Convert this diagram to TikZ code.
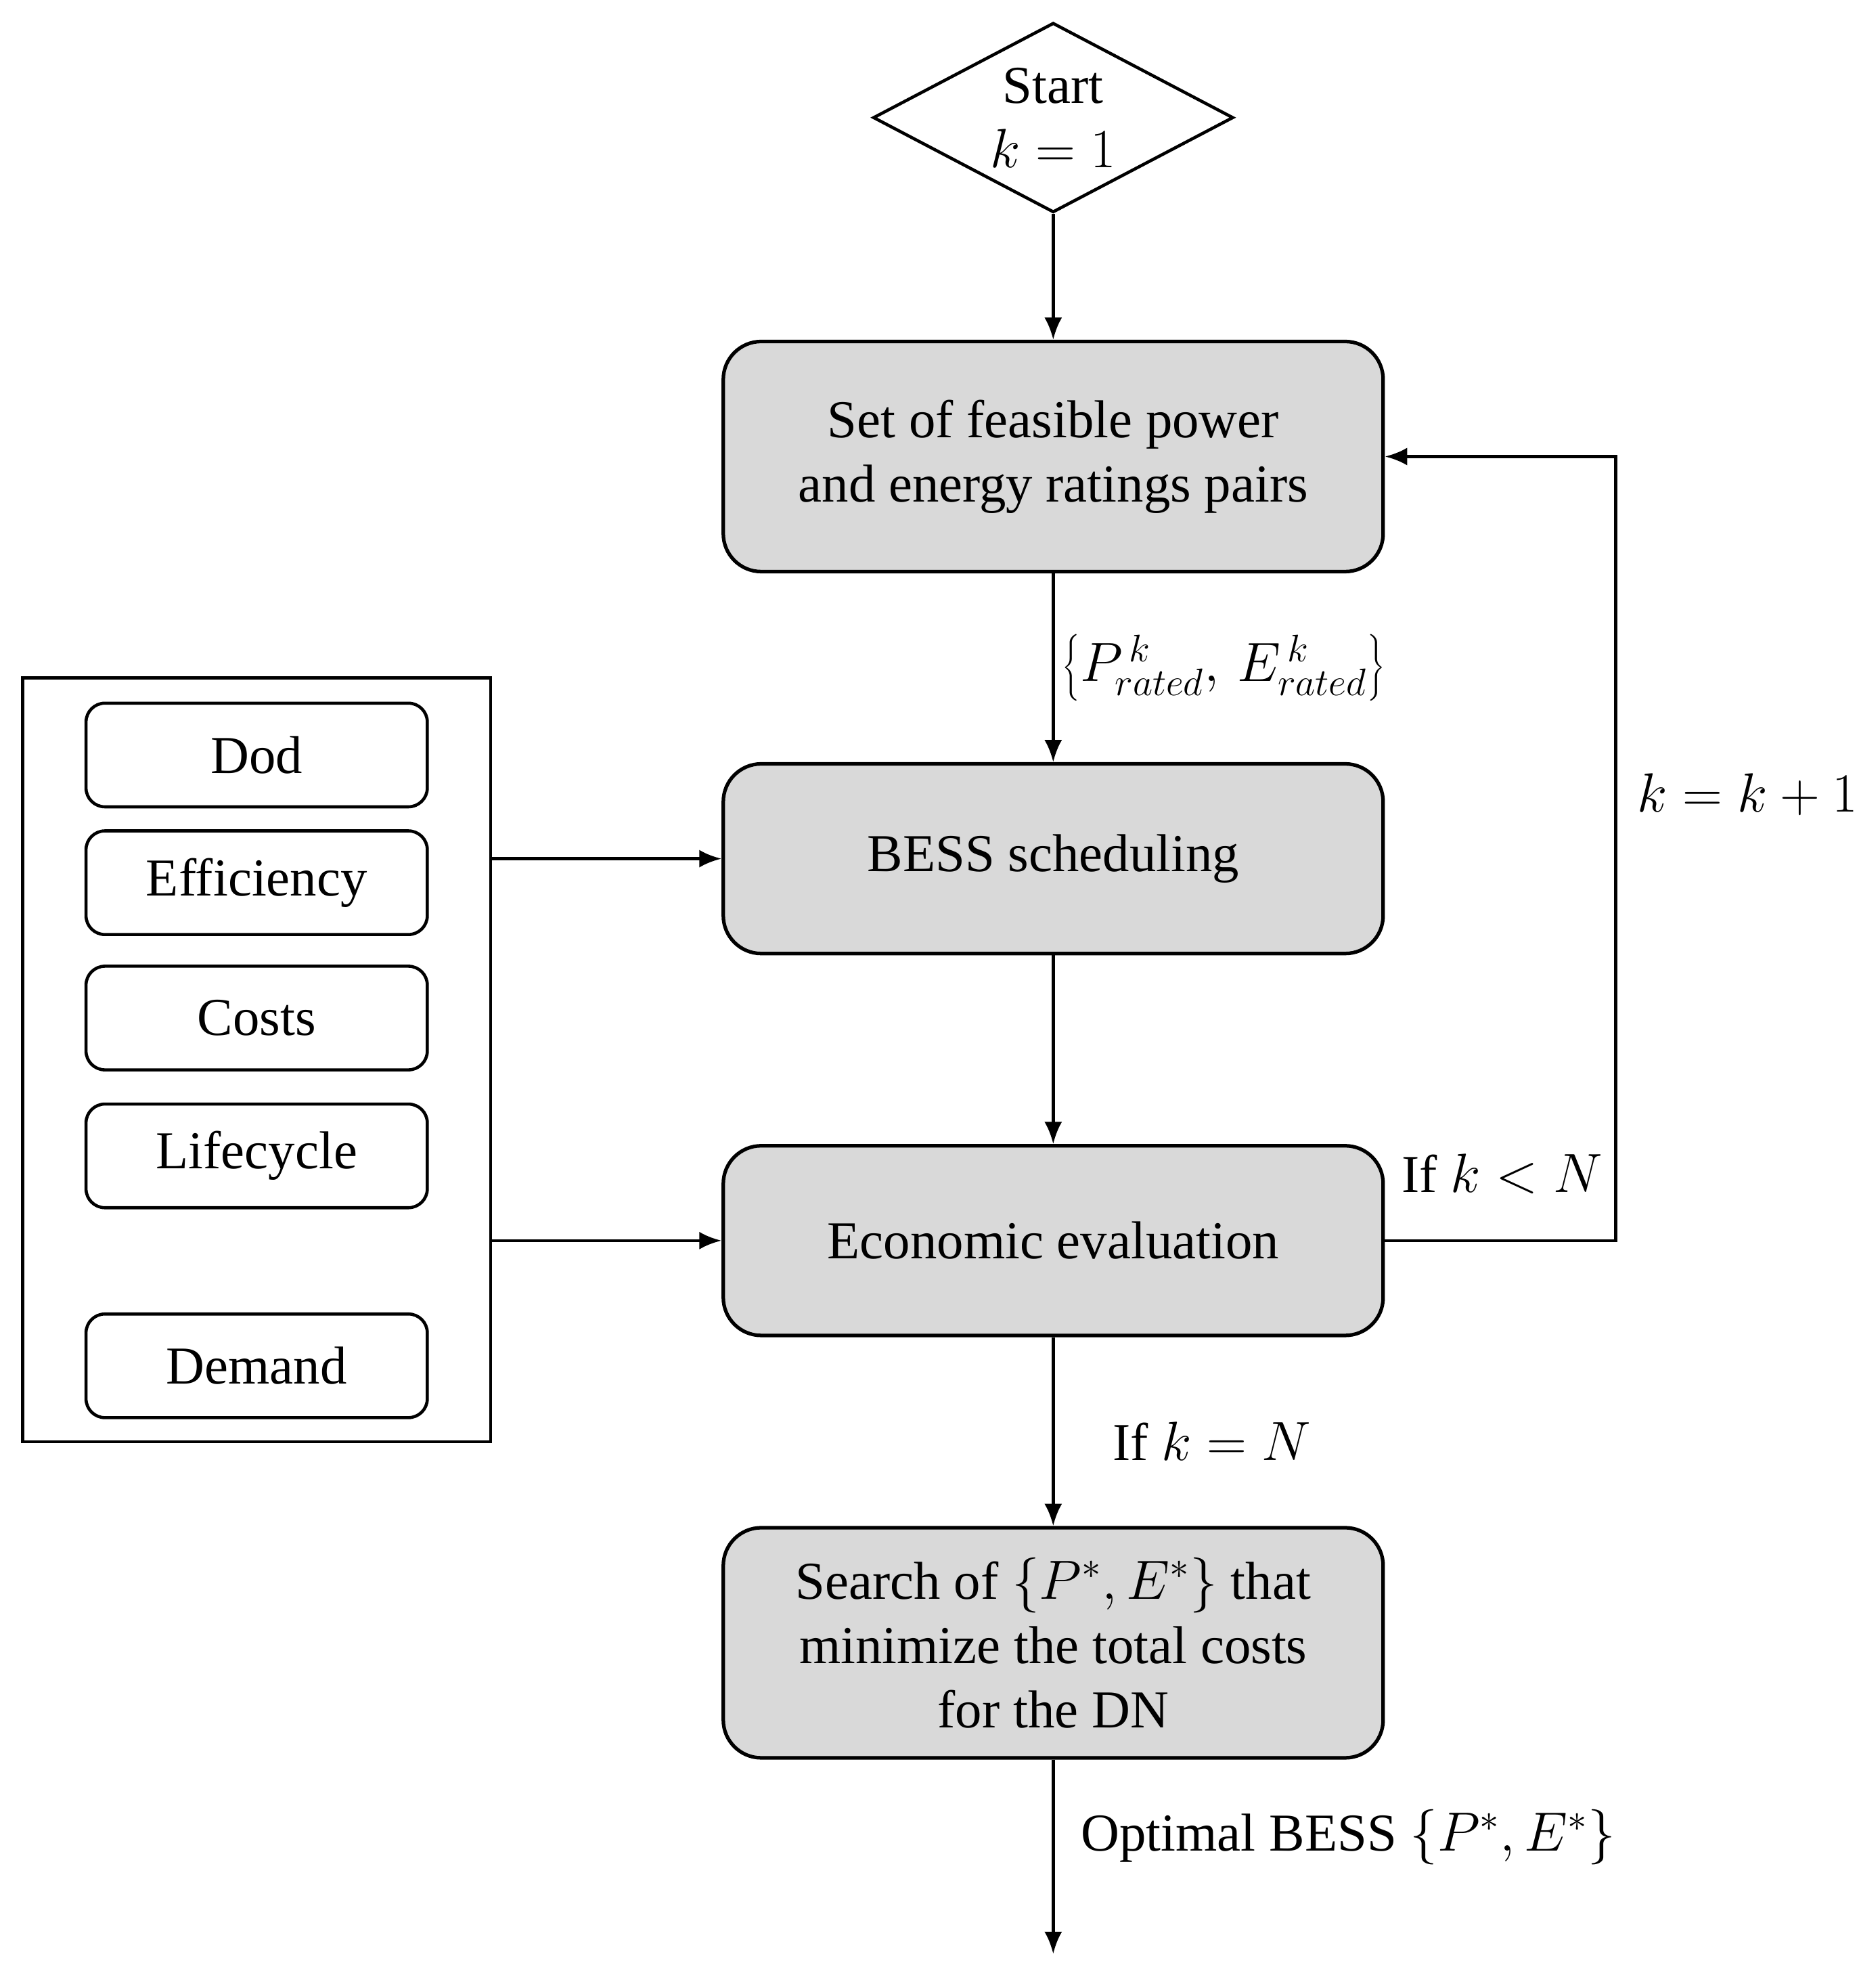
\documentclass[tikz,border=0pt]{standalone}
\usepackage{fontspec}
\setmainfont{Liberation Serif}
\usetikzlibrary{shapes.geometric,arrows.meta}
\begin{document}
\begin{tikzpicture}[x=0.02cm,y=-0.02cm,
  every node/.style={font=\fontsize{24}{29}\selectfont},
  main/.style={draw,line width=1.6pt,fill=gray!30,rounded corners=0.6cm,minimum width=10.44cm,align=center},
  small/.style={draw,line width=1.4pt,rounded corners=0.3cm,minimum width=5.4cm,minimum height=1.64cm},
  arr/.style={line width=1.4pt,-{Latex[length=10pt,width=8pt]}},
  lbl/.style={font=\fontsize{24}{29}\selectfont}]
\useasboundingbox (0,0) rectangle (1470,1572);
\node[draw,diamond,aspect=1.9,line width=1.4pt,minimum width=5.7cm,minimum height=3cm,inner sep=0pt,align=center] (s) at (833,93) {Start\\\(k=1\)};
\node[main,minimum height=3.64cm] (b1) at (833,361) {Set of feasible power\\and energy ratings pairs};
\node[main,minimum height=3cm] (b2) at (833,679) {BESS scheduling};
\node[main,minimum height=3cm] (b3) at (833,981) {Economic evaluation};
\node[main,minimum height=3.64cm] (b4) at (833,1299) {Search of \(\{P^*,E^*\}\) that\\minimize the total costs\\for the DN};
\node[draw,line width=1.4pt,minimum width=7.4cm,minimum height=12.08cm] (L) at (203,838) {};
\node[small] (d1) at (203,597) {Dod};
\node[small] (d2) at (203,698) {Efficiency};
\node[small] (d3) at (203,805) {Costs};
\node[small] (d4) at (203,914) {Lifecycle};
\node[small] (d5) at (203,1080) {Demand};
\coordinate (e) at (833,1545);
\draw[arr] (s.south) -- (b1.north);
\draw[arr] (b1.south) -- node[right,lbl]{\(\left\{P^{\,k}_{rated},\,E^{\,k}_{rated}\right\}\)} (b2.north);
\draw[arr] (b2.south) -- (b3.north);
\draw[arr] (b3.south) -- node[right=0.8cm,lbl,pos=0.55]{If \(k=N\)} (b4.north);
\draw[arr] (b4.south) -- node[right=0.3cm,lbl,pos=0.4]{Optimal BESS \(\left\{P^*,E^*\right\}\)} (e);
\draw[arr] (b3.east) -- (1278,981) -- (1278,361) -- (b1.east);
\node[lbl] (kk) at (1382,628) {\(k=k+1\)};
\node[lbl] (kn) at (1188,928) {If \(k<N\)};
\draw[arr] (L.east |- b2) -- (b2.west);
\draw[arr] (L.east |- b3) -- (b3.west);
\end{tikzpicture}
\end{document}
